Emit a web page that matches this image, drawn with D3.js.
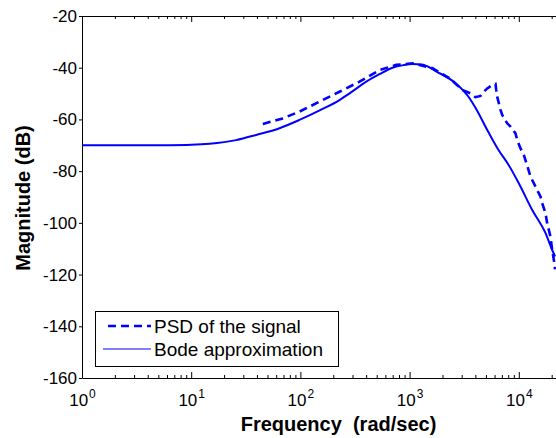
<!DOCTYPE html>
<html>
<head>
<meta charset="utf-8">
<script src="https://cdn.jsdelivr.net/npm/d3@7"></script>
<style>
  body { margin: 0; background: #fff; }
  svg { display: block; font-family: "Liberation Sans", Arial, sans-serif; }
</style>
</head>
<body>
<svg id="chart" width="556" height="438"></svg>
<script>
// values
const bodeFreq = [1, 3, 6.3, 10, 14.7, 25.8, 39.4, 64.4, 98, 150, 228, 282, 401, 530, 697, 880, 1064, 1300, 1763, 2690, 3540, 4010, 5280, 6520, 8040, 10000, 13270, 17580, 20220, 21500];
const bodeMag  = [-70, -70, -69.95, -69.8, -69.4, -68, -66, -63.4, -60.2, -56.5, -52.5, -49.9, -45.4, -42.5, -40, -39, -38.6, -38.8, -41.5, -46.3, -51.8, -55.5, -65, -71.8, -77.5, -84.7, -95, -104, -110.5, -113];

const psdFreq = [45.3, 68.6, 98, 150, 228, 348, 530, 754, 1064, 1622, 2318, 3050, 3610, 4010, 4460, 4780, 5140, 5710, 6120, 6210, 6340, 6800, 7050, 7830, 8400, 9330, 9670, 10370, 11120, 11940, 12800, 14220, 15810, 16380, 17580, 18200, 19520, 20220, 20950, 21500];
const psdMag  = [-61.8, -59.6, -57, -53.1, -49.3, -45.4, -40.9, -38.9, -38.3, -40.2, -44.1, -48.6, -49.9, -51.4, -50.9, -49.3, -48, -46.7, -46.3, -48.6, -51.2, -56.3, -58.3, -61.5, -62.8, -65.4, -68, -71.2, -73.8, -77.9, -82.1, -86, -89.9, -92.4, -96.3, -100.2, -105.4, -110.5, -114.4, -118];

const yTicks = [-20, -40, -60, -80, -100, -120, -140, -160];
const xTickExp = [0, 1, 2, 3, 4];
const legendLabels = ["PSD of the signal", "Bode approximation"];

const svg = d3.select("#chart");
const margin = { left: 82, top: 16, bottom: 378 };

const x = d3.scaleLog().domain([1, 5e4]).range([margin.left, margin.left + 109.2 * Math.log10(5e4)]);
const y = d3.scaleLinear().domain([-160, -20]).range([margin.bottom, margin.top]);

const majors = xTickExp.map(e => Math.pow(10, e));
const minors = [];
for (let e = 0; e <= 4; e++) {
    for (let k = 2; k <= 9; k++) minors.push(k * Math.pow(10, e));
}

// bottom axis, ticks pointing inward
const gb = svg.append("g").attr("transform", `translate(0,${margin.bottom})`)
    .call(d3.axisBottom(x).tickValues(majors).tickSizeInner(-6).tickSizeOuter(0).tickFormat(""));
svg.append("g").attr("transform", `translate(0,${margin.bottom})`)
    .call(d3.axisBottom(x).tickValues(minors).tickSizeInner(-3).tickSizeOuter(0).tickFormat(""))
    .select(".domain").remove();

gb.selectAll(".tick").each(function(d) {
    const t = d3.select(this).append("text")
        .attr("y", 28)
        .attr("fill", "#000")
        .attr("text-anchor", "middle")
        .style("font-size", "17px");
    t.append("tspan").text("10");
    t.append("tspan").attr("dy", -8).attr("dx", 1).style("font-size", "12px").text(Math.round(Math.log10(d)));
});

// top axis
svg.append("g").attr("transform", `translate(0,${margin.top})`)
    .call(d3.axisTop(x).tickValues(majors).tickSizeInner(-6).tickSizeOuter(0).tickFormat(""));
svg.append("g").attr("transform", `translate(0,${margin.top})`)
    .call(d3.axisTop(x).tickValues(minors).tickSizeInner(-3).tickSizeOuter(0).tickFormat(""))
    .select(".domain").remove();

// left axis (plain hyphen like matlab)
const gl = svg.append("g").attr("transform", `translate(${margin.left},0)`)
    .call(d3.axisLeft(y).tickValues(yTicks).tickSize(3).tickPadding(2).tickSizeOuter(0)
        .tickFormat(d => String(d)));
gl.selectAll("text").style("font-size", "17px").attr("fill", "#000");

svg.selectAll(".domain, .tick line").attr("stroke", "#000");

// lines
const smooth = d3.line().x(d => x(d[0])).y(d => y(d[1])).curve(d3.curveMonotoneX);
const line = d3.line().x(d => x(d[0])).y(d => y(d[1]));

svg.append("path")
    .datum(d3.zip(bodeFreq, bodeMag))
    .attr("fill", "none")
    .attr("stroke", "#0000ff")
    .attr("stroke-width", 2)
    .attr("d", smooth);

svg.append("path")
    .datum(d3.zip(psdFreq, psdMag))
    .attr("fill", "none")
    .attr("stroke", "#0000ff")
    .attr("stroke-width", 2.6)
    .attr("stroke-dasharray", "8,5")
    .attr("d", line);

// axis titles
svg.append("text")
    .attr("x", 338.5).attr("y", 431)
    .attr("text-anchor", "middle")
    .attr("xml:space", "preserve")
    .style("font-size", "20px").style("font-weight", "bold")
    .style("white-space", "pre")
    .text("Frequency  (rad/sec)");

svg.append("text")
    .attr("transform", "translate(30,198) rotate(-90)")
    .attr("text-anchor", "middle")
    .style("font-size", "20px").style("font-weight", "bold")
    .text("Magnitude (dB)");

// legend
const lg = svg.append("g");
lg.append("rect")
    .attr("x", 95.5).attr("y", 311.5).attr("width", 243).attr("height", 55)
    .attr("fill", "#fff").attr("stroke", "#000");

const legendStyles = [
    { dash: "8,5", width: 2.6, x1: 108, y: 326 },
    { dash: null, width: 1.2, x1: 103, y: 349 }
];
legendLabels.forEach((label, i) => {
    const s = legendStyles[i];
    lg.append("line")
        .attr("x1", s.x1).attr("x2", 151).attr("y1", s.y).attr("y2", s.y)
        .attr("stroke", "#0000ff").attr("stroke-width", s.width)
        .attr("stroke-dasharray", s.dash);
    lg.append("text")
        .attr("x", 154).attr("y", s.y + 7)
        .style("font-size", "19px")
        .text(label);
});
</script>
</body>
</html>
